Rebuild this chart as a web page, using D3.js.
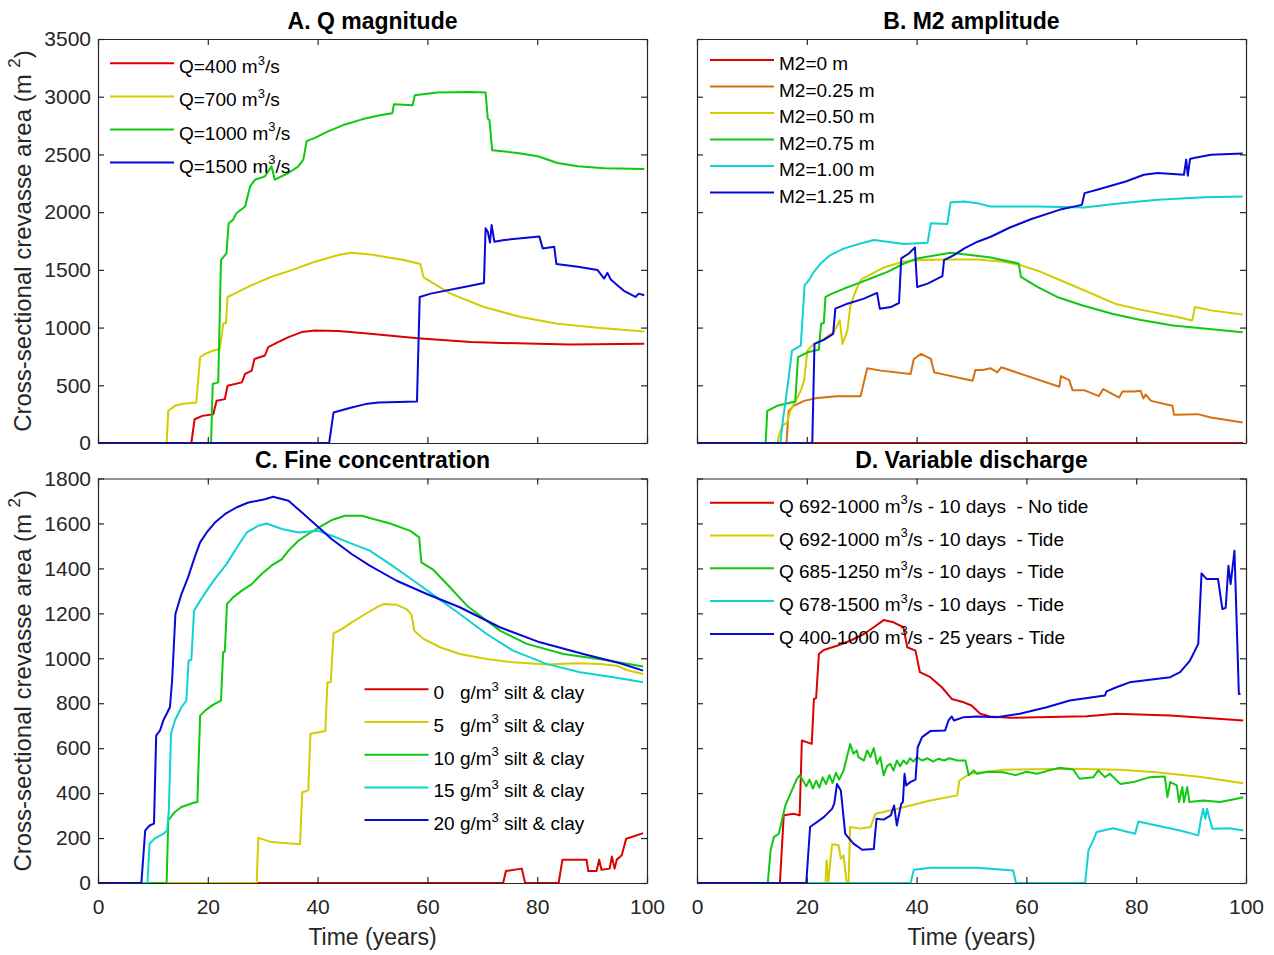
<!DOCTYPE html>
<html>
<head>
<meta charset="utf-8">
<script src="https://cdn.jsdelivr.net/npm/d3@7"></script>
<style>
  body { margin: 0; background: #fff; }
  text { font-family: "Liberation Sans", Arial, Helvetica, sans-serif; white-space: pre; }
</style>
</head>
<body>
<svg id="fig" width="1274" height="955"></svg>
<script>
// ---------- Data: [time (years), cross-sectional crevasse area (m^2)] ----------

// A. Q magnitude
const qLabels = ["Q=400 m^3/s", "Q=700 m^3/s", "Q=1000 m^3/s", "Q=1500 m^3/s"];
const q400 = [[0,0],[17.0,0],[17.6,206],[19,235],[21,250],[21.6,366],[23.1,380],[23.6,496],[26.2,525],[26.8,598],[28,627],[28.5,728],[30.4,758],[31,830],[32.8,874],[34.7,917],[37.1,961],[39.5,975],[43.8,970],[49.6,946],[58.2,908],[67.9,874],[80.1,859],[86.1,853],[99.5,859]];
const q700 = [[0,0],[12.5,0],[12.8,279],[14,322],[15.5,340],[17.9,351],[18.6,743],[19.5,772],[20.7,795],[22.2,816],[22.8,1033],[23.3,1040],[23.6,1265],[25.5,1309],[28,1367],[31.6,1440],[35.3,1498],[39.5,1570],[43.8,1628],[46.2,1649],[49.6,1634],[55.7,1585],[58.7,1550],[59.3,1434],[64.2,1294],[70.3,1178],[77,1091],[83.7,1033],[91,998],[99.5,966]];
const q1000 = [[0,0],[20.6,0],[20.9,511],[21.9,525],[22.4,1585],[23.4,1643],[23.8,1904],[24.6,1933],[25.2,1991],[26.8,2049],[27.7,2223],[28.6,2281],[30.4,2310],[31.6,2397],[32.2,2281],[34.7,2339],[36.5,2397],[37.4,2455],[38,2615],[39.5,2644],[42,2702],[45,2760],[48.1,2804],[51.1,2838],[53.6,2856],[53.9,2934],[57.3,2925],[57.7,3012],[61.8,3036],[67.9,3041],[70.6,3036],[71,2809],[71.3,2800],[71.8,2537],[76.4,2513],[80.1,2484],[83.7,2426],[87.4,2397],[92.2,2380],[99.5,2374]];
const q1500 = [[0,0],[42.1,0],[42.9,264],[46.2,308],[48.7,337],[51.1,351],[58.1,360],[58.6,1265],[60.6,1294],[66.7,1352],[70.3,1387],[70.6,1860],[71,1830],[71.4,1736],[71.7,1889],[72.2,1744],[74,1759],[80.4,1788],[81,1686],[83.1,1701],[83.5,1550],[87.4,1527],[91,1498],[92.2,1425],[92.8,1474],[93.4,1416],[94.6,1367],[95.8,1318],[97.9,1265],[98.5,1294],[99.5,1280]];

// B. M2 amplitude
const m2Labels = ["M2=0 m", "M2=0.25 m", "M2=0.50 m", "M2=0.75 m", "M2=1.00 m", "M2=1.25 m"];
const m2_000 = [[0,0],[99.5,0]];
const m2_025 = [[0,0],[16.3,0],[16.7,278],[17.6,322],[19.5,365],[21.9,389],[25.5,406],[29.8,406],[31,647],[33.5,627],[38.9,598],[39.5,728],[40.8,772],[42.6,728],[43.2,612],[50.2,540],[50.7,632],[52,632],[53.5,647],[54.7,612],[55.4,656],[66,487],[66.3,580],[67.8,545],[68.4,458],[70.5,458],[73.2,406],[74,467],[76.9,394],[77.5,447],[79.6,447],[80.8,452],[81.3,386],[81.7,420],[82.7,365],[86.6,322],[86.9,244],[91.2,250],[93.6,221],[99.4,177]];
const m2_050 = [[0,0],[14.7,0],[14.9,61],[15.5,148],[16.4,177],[17,278],[18.9,453],[19.5,540],[20.1,801],[21.3,859],[23.1,902],[24.9,960],[26,1062],[26.5,859],[27.4,975],[27.9,1178],[28.6,1280],[29.5,1381],[30,1420],[34,1520],[37.5,1570],[40.1,1584],[45,1590],[51.1,1590],[55.9,1570],[58.9,1541],[62.6,1483],[66.2,1410],[70.5,1323],[76.1,1207],[81.4,1149],[87.5,1091],[90.2,1062],[90.7,1178],[93.6,1149],[99.4,1114]];
const m2_075 = [[0,0],[12.5,0],[12.8,278],[14.6,322],[17.9,360],[18.4,743],[20.1,786],[22.2,807],[22.6,1033],[23.1,1040],[23.4,1265],[24.6,1294],[26.8,1338],[29.2,1381],[31.6,1425],[34.7,1483],[37.7,1555],[40.1,1599],[43.8,1628],[46.2,1648],[49.8,1628],[53.5,1607],[58.6,1555],[59,1439],[62,1352],[65.6,1265],[70.1,1193],[75.6,1120],[80.6,1068],[86.7,1018],[92.8,989],[99.4,960]];
const m2_100 = [[0,0],[15.2,0],[15.7,220],[16.1,351],[16.7,569],[17.3,801],[18.9,844],[19.6,1367],[20.4,1410],[21.3,1483],[22.5,1555],[24.3,1628],[26.8,1686],[29.8,1729],[32.2,1758],[34.7,1744],[37.7,1724],[42,1735],[42.6,1904],[45.6,1898],[46.2,2086],[48.7,2092],[51,2078],[53.5,2049],[62,2049],[70.5,2040],[77.2,2078],[83.9,2107],[92.4,2130],[99.4,2136]];
const m2_125 = [[0,0],[21,0],[21.4,859],[23.1,894],[24.8,946],[25.2,1164],[27.4,1207],[30.4,1251],[32.8,1300],[33.3,1164],[35.3,1178],[36.8,1213],[37.2,1599],[38.6,1642],[39.7,1695],[40.1,1352],[42,1381],[44.7,1445],[45,1584],[46.8,1628],[48.7,1686],[51.1,1744],[53.5,1787],[57.1,1869],[60.8,1938],[66,2020],[70.1,2063],[70.6,2165],[73.2,2199],[78.1,2266],[81.4,2324],[83.9,2339],[88.7,2324],[89.1,2455],[89.4,2316],[89.8,2461],[90.5,2469],[93.6,2498],[99.4,2507]];

// C. Fine concentration
const fineLabels = ["0   g/m^3 silt & clay", "5   g/m^3 silt & clay", "10 g/m^3 silt & clay", "15 g/m^3 silt & clay", "20 g/m^3 silt & clay"];
const fine0 = [[0,0],[73.8,0],[74.3,53],[77.2,64],[77.8,0],[83.9,0],[84.6,104],[89,104],[89.3,53],[90.8,53],[91.3,104],[91.7,59],[93.2,64],[93.6,118],[94.1,64],[94.5,104],[95.4,123],[96.2,197],[97.5,207],[99.3,222]];
const fine5 = [[0,0],[28.9,0],[29.2,201],[31.6,182],[36.8,172],[37.2,404],[38.3,412],[38.7,664],[41.4,676],[41.8,893],[42.4,893],[42.9,1111],[44.4,1130],[46.2,1160],[48.7,1197],[51,1230],[52,1241],[54.4,1238],[56.2,1219],[57.1,1194],[57.6,1123],[59.3,1086],[62.3,1049],[65.9,1019],[70.8,997],[75.6,982],[81.7,972],[87.2,978],[91.4,975],[94.5,967],[96.3,948],[99.3,930]];
const fine10 = [[0,0],[12.5,0],[12.8,279],[14,316],[15.2,338],[17.3,356],[18.1,360],[18.6,745],[19.5,767],[21,794],[22.4,812],[22.8,1027],[23.1,1030],[23.5,1241],[24.6,1271],[26.2,1301],[28,1330],[29.8,1375],[31.6,1412],[33.5,1441],[34.7,1479],[36.5,1523],[38.3,1553],[40.8,1590],[42.6,1615],[45,1634],[48.1,1634],[49.5,1624],[53.2,1600],[56.9,1567],[58.5,1538],[58.9,1427],[61.1,1393],[64.1,1316],[67.2,1234],[73.2,1123],[78.1,1064],[84.8,1019],[92.1,993],[99.3,963]];
const fine15 = [[0,0],[9,0],[9.4,175],[10.3,197],[11.9,219],[12.6,234],[12.9,323],[13.3,664],[14,723],[15.2,782],[16.1,812],[16.5,990],[17,993],[17.5,1212],[18.6,1256],[19.8,1301],[21.3,1353],[23.4,1419],[25.5,1501],[27.1,1560],[29.2,1590],[30.7,1600],[33.5,1575],[36.5,1560],[40.1,1567],[42.6,1545],[45.6,1516],[49.5,1479],[53.2,1419],[57.5,1345],[61.7,1271],[65.9,1197],[70.8,1108],[75.6,1034],[81.7,975],[87.8,938],[93.9,916],[99.3,893]];
const fine20 = [[0,0],[7.9,0],[8.6,234],[9.4,256],[10.2,264],[10.6,656],[11.3,679],[11.9,723],[13.1,782],[13.5,901],[14.1,1197],[15.2,1286],[16.4,1360],[17.6,1449],[18.6,1516],[19.8,1560],[21.3,1604],[23.1,1641],[25.2,1671],[27.4,1693],[30.4,1708],[31.9,1719],[34.7,1701],[36.8,1656],[39.5,1597],[42.6,1530],[46.2,1464],[49.5,1412],[54.4,1345],[59.9,1286],[65.9,1227],[73.2,1138],[80.5,1071],[88.4,1019],[95.1,978],[99.3,945]];

// D. Variable discharge
const varLabels = [
  "Q 692-1000 m^3/s - 10 days  - No tide",
  "Q 692-1000 m^3/s - 10 days  - Tide",
  "Q 685-1250 m^3/s - 10 days  - Tide",
  "Q 678-1500 m^3/s - 10 days  - Tide",
  "Q 400-1000 m^3/s - 25 years - Tide"
];
const varNoTide = [[0,0],[15.1,0],[15.8,301],[17.6,308],[18.7,301],[19.1,634],[20.9,619],[21.3,819],[21.7,823],[22.2,1019],[23.1,1037],[25.5,1056],[27.9,1078],[30.4,1108],[32.2,1138],[34,1170],[35.8,1160],[37.6,1138],[38.3,1049],[39.8,1034],[40.6,938],[42.5,916],[44.6,871],[46.4,819],[48.6,804],[50,790],[51.6,753],[53.4,741],[57,735],[61.9,738],[71,742],[76.4,753],[86.2,745],[92.2,735],[99.5,723]];
const varTide1000 = [[0,0],[23.4,0],[23.6,101],[23.9,0],[24.6,172],[25.8,168],[26.2,108],[26.7,123],[27.2,12],[27.4,0],[27.6,0],[27.9,249],[29.8,242],[31.6,249],[32.5,308],[35.2,323],[38.9,345],[42.5,367],[47.4,390],[47.8,456],[49.7,486],[55.8,504],[67.9,508],[77,504],[83.7,493],[92.2,471],[99.5,444]];
const varTide1250 = [[0,0],[12.9,0],[13.4,145],[14,204],[14.9,219],[16.1,345],[17,397],[18.2,464],[18.7,479],[19.3,456],[19.9,430],[20.5,460],[21.1,420],[21.7,455],[22.3,425],[22.9,470],[23.5,440],[24.1,480],[24.7,445],[25.3,490],[25.9,460],[26.7,501],[27.9,619],[28.5,575],[29.1,590],[29.4,560],[30.4,545],[31,590],[31.6,560],[32.2,600],[32.8,530],[33.4,560],[34,479],[34.6,520],[35.2,530],[35.8,500],[36.4,545],[37,520],[37.6,545],[38.2,530],[38.8,555],[39.4,540],[40.1,560],[41,545],[42,555],[43,540],[44,553],[45,545],[46,555],[47.4,545],[48.9,545],[49.5,479],[50.4,501],[51,486],[53,495],[55.8,493],[58,480],[60,495],[61.9,486],[64,500],[66.1,513],[68.5,505],[69.7,464],[72.2,471],[73.1,501],[74.3,471],[75.2,486],[77.1,441],[79.5,449],[82.5,471],[85.2,474],[85.7,382],[86.2,449],[87.4,434],[87.8,360],[88.4,427],[88.7,360],[89.3,427],[89.7,360],[92.2,367],[95.3,360],[98.3,375],[99.5,382]];
const varTide1500 = [[0,0],[38.9,0],[39.5,59],[42.5,68],[51,68],[57.6,56],[58.1,0],[70.7,0],[71.3,145],[71.9,175],[72.8,227],[75.8,244],[79.8,219],[80.4,274],[83.7,256],[88,234],[91.3,212],[91.8,286],[92.2,330],[92.6,286],[92.9,330],[93.4,282],[93.9,241],[97,244],[99.5,234]];
const var25yr = [[0,0],[19.9,0],[20.6,249],[23.1,293],[24.6,330],[25,353],[25.5,441],[26.2,412],[27,219],[28.5,175],[30.1,148],[32.2,151],[32.7,286],[34,282],[35.3,301],[35.9,345],[36.4,256],[37.2,353],[37.5,360],[37.8,486],[38.1,434],[38.9,450],[39.8,460],[40.2,604],[41,649],[42.5,676],[45.2,679],[45.8,723],[46.4,741],[46.8,723],[48.6,738],[51,741],[54.6,738],[58.8,753],[63.7,782],[67.9,812],[74.3,834],[74.6,853],[76.4,871],[78.8,893],[82.5,904],[86.2,916],[88,938],[89.8,990],[91.3,1064],[91.9,1378],[92.8,1353],[94.9,1353],[95.7,1219],[96.3,1225],[96.8,1412],[97.2,1330],[97.9,1479],[98.7,841],[99,841]];

// Axis ticks
const xTicks = [0, 20, 40, 60, 80, 100];
const yTicksTop = [0, 500, 1000, 1500, 2000, 2500, 3000, 3500];
const yTicksBottom = [0, 200, 400, 600, 800, 1000, 1200, 1400, 1600, 1800];

// ---------- Styling ----------
const COL = {
  red: "#dd0000", orange: "#d9700f", yellow: "#d4cc00",
  green: "#10c810", cyan: "#10d2d2", blue: "#0808d8"
};
const AXIS = "#262626";
const svg = d3.select("#fig");

// Text with "^x" superscripts rendered as tspans
function richText(sel, str, size, supSize) {
  const parts = str.split(/\^(\w)/);
  parts.forEach((p, i) => {
    if (p === "") return;
    if (i % 2 === 1) {
      sel.append("tspan").attr("font-size", supSize).attr("dy", -0.45 * size).text(p);
    } else {
      const t = sel.append("tspan").attr("font-size", size).text(p);
      if (i > 0) t.attr("dy", 0.45 * size);
    }
  });
}

function drawPanel(o) {
  const x = d3.scaleLinear().domain([0, 100]).range([o.x0, o.x1]);
  const y = d3.scaleLinear().domain([0, o.ymax]).range([o.y1, o.y0]);
  const g = svg.append("g");

  // series
  const line = d3.line().x(d => x(d[0])).y(d => y(d[1]));
  o.series.forEach(s => {
    g.append("path").datum(s.data)
      .attr("fill", "none").attr("stroke", s.color)
      .attr("stroke-width", 2).attr("stroke-linejoin", "round")
      .attr("d", line);
  });

  // axes: ticks inside on all four sides
  const tick = 6;
  const fmt = d3.format("d");
  const bottom = d3.axisBottom(x).tickValues(xTicks).tickSize(-tick).tickSizeOuter(0).tickPadding(16)
    .tickFormat(o.xLabels ? fmt : () => "");
  const left = d3.axisLeft(y).tickValues(o.yTicks).tickSize(-tick).tickSizeOuter(0).tickPadding(7)
    .tickFormat(o.yLabels ? fmt : () => "");
  const top = d3.axisTop(x).tickValues(xTicks).tickSize(-tick).tickSizeOuter(0).tickFormat(() => "");
  const right = d3.axisRight(y).tickValues(o.yTicks).tickSize(-tick).tickSizeOuter(0).tickFormat(() => "");

  [[bottom, `translate(0,${o.y1})`], [left, `translate(${o.x0},0)`],
   [top, `translate(0,${o.y0})`], [right, `translate(${o.x1},0)`]].forEach(([ax, tr]) => {
    const a = g.append("g").attr("transform", tr).call(ax);
    a.selectAll("path.domain").attr("stroke", AXIS).attr("stroke-width", 1.2);
    a.selectAll(".tick line").attr("stroke", AXIS).attr("stroke-width", 1.2);
    a.selectAll(".tick text").attr("fill", AXIS).attr("font-size", 21)
      .attr("font-family", "Liberation Sans, Arial, sans-serif");
  });

  // title
  g.append("text").attr("x", (o.x0 + o.x1) / 2).attr("y", o.y0 - 10.5)
    .attr("text-anchor", "middle").attr("font-size", 23).attr("font-weight", "bold")
    .attr("fill", "#000").text(o.title);

  if (o.yLabels) {
    const t = g.append("text")
      .attr("transform", `translate(31,${(o.y0 + o.y1) / 2}) rotate(-90)`)
      .attr("text-anchor", "middle").attr("fill", AXIS);
    richText(t, "Cross-sectional crevasse area (m ^2)", 24, 17);
  }
  if (o.xLabels) {
    g.append("text").attr("x", (o.x0 + o.x1) / 2).attr("y", 945)
      .attr("text-anchor", "middle").attr("font-size", 23).attr("fill", AXIS)
      .text("Time (years)");
  }

  // legend
  const L = o.legend;
  o.series.forEach((s, i) => {
    const ly = L.y + i * L.dy;
    g.append("line").attr("x1", L.x).attr("x2", L.x + 64).attr("y1", ly).attr("y2", ly)
      .attr("stroke", s.color).attr("stroke-width", 2);
    const t = g.append("text").attr("x", L.x + 69).attr("y", ly + 10).attr("fill", "#000");
    richText(t, o.labels[i], 19, 13);
  });
}

const top0 = 39, top1 = 443, bot0 = 478.5, bot1 = 883;
const left0 = 98, left1 = 647, right0 = 697, right1 = 1246;

drawPanel({
  x0: left0, x1: left1, y0: top0, y1: top1, ymax: 3500, yTicks: yTicksTop,
  title: "A. Q magnitude", xLabels: false, yLabels: true, labels: qLabels,
  series: [{data: q400, color: COL.red}, {data: q700, color: COL.yellow},
           {data: q1000, color: COL.green}, {data: q1500, color: COL.blue}],
  legend: {x: 110, y: 63.3, dy: 33.1}
});
drawPanel({
  x0: right0, x1: right1, y0: top0, y1: top1, ymax: 3500, yTicks: yTicksTop,
  title: "B. M2 amplitude", xLabels: false, yLabels: false, labels: m2Labels,
  series: [{data: m2_000, color: COL.red}, {data: m2_025, color: COL.orange},
           {data: m2_050, color: COL.yellow}, {data: m2_075, color: COL.green},
           {data: m2_100, color: COL.cyan}, {data: m2_125, color: COL.blue}],
  legend: {x: 710, y: 60, dy: 26.5}
});
drawPanel({
  x0: left0, x1: left1, y0: bot0, y1: bot1, ymax: 1800, yTicks: yTicksBottom,
  title: "C. Fine concentration", xLabels: true, yLabels: true, labels: fineLabels,
  series: [{data: fine0, color: COL.red}, {data: fine5, color: COL.yellow},
           {data: fine10, color: COL.green}, {data: fine15, color: COL.cyan},
           {data: fine20, color: COL.blue}],
  legend: {x: 364.5, y: 689.3, dy: 32.7}
});
drawPanel({
  x0: right0, x1: right1, y0: bot0, y1: bot1, ymax: 1800, yTicks: yTicksBottom,
  title: "D. Variable discharge", xLabels: true, yLabels: false, labels: varLabels,
  series: [{data: varNoTide, color: COL.red}, {data: varTide1000, color: COL.yellow},
           {data: varTide1250, color: COL.green}, {data: varTide1500, color: COL.cyan},
           {data: var25yr, color: COL.blue}],
  legend: {x: 710, y: 502.7, dy: 32.8}
});
</script>
</body>
</html>
